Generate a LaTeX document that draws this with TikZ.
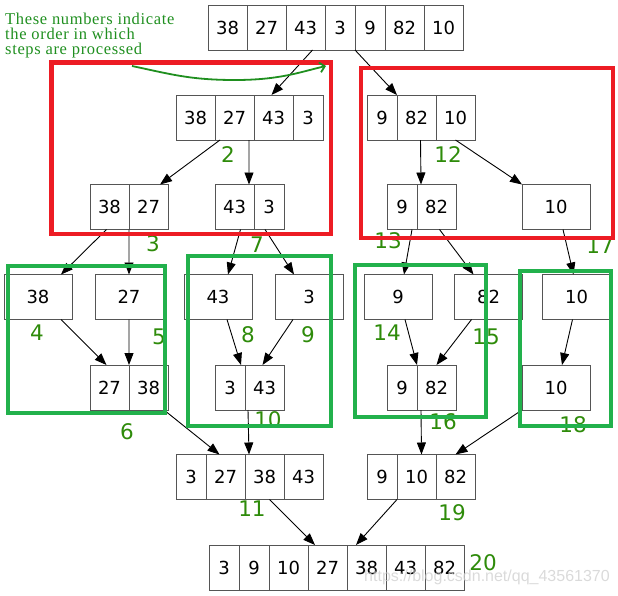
\documentclass[tikz,border=0pt]{standalone}
\usepackage{fontspec}
\setmainfont{DejaVu Sans}
\newfontfamily\notefont[LetterSpace=4]{Liberation Serif}
\newfontfamily\markfont{Liberation Sans}
\usetikzlibrary{arrows.meta,positioning}
\definecolor{cellln}{HTML}{555555}
\definecolor{stepg}{HTML}{2E8B0A}
\definecolor{splitr}{HTML}{ED1C24}
\definecolor{mergeg}{HTML}{22B14C}
\definecolor{noteg}{HTML}{1F8F1F}
\tikzset{
  cell/.style={draw=cellln,line width=1pt,outer sep=0pt,minimum width=30pt,minimum height=45pt,inner xsep=8.05pt,font=\fontsize{18}{18}\selectfont},
  wcell/.style={cell,minimum width=68pt},
  ar/.style={-{Triangle[length=12pt,width=9pt]},line width=0.9pt},
  num/.style={text=stepg,font=\fontsize{21.5}{21.5}\selectfont},
  redbox/.style={draw=splitr,line width=4.5pt},
  grnbox/.style={draw=mergeg,line width=4pt},
}
% one row of cells: name, x, y, values
\newcommand{\cellrow}[4]{%
  \foreach \v [count=\i] in {#4}{%
    \ifnum\i=1
      \node[cell,anchor=west] (#1-\i) at (#2,#3) {\v};
    \else
      \pgfmathtruncatemacro{\j}{\i-1}%
      \node[cell,right=0pt of #1-\j] (#1-\i) {\v};
    \fi
  }%
}

\begin{document}
\begin{tikzpicture}[x=1pt,y=-1pt]
\useasboundingbox (0,0) rectangle (618,595);

% split
\cellrow{src}{208}{27.5}{38,27,43,3,9,82,10}
\cellrow{lh}{176}{117.5}{38,27,43,3}
\cellrow{rh}{367}{117.5}{9,82,10}
\cellrow{lq1}{90}{207}{38,27}
\cellrow{lq2}{215}{207}{43,3}
\cellrow{rq1}{387}{207}{9,82}
\node[wcell] (rq2) at (556,207) {10};
\node[wcell] (s38) at (38,297) {38};
\node[wcell] (s27) at (129,297) {27};
\node[wcell] (s43) at (218,297) {43};
\node[wcell] (s3) at (309,297) {3};
\node[wcell] (s9) at (398,297) {9};
\node[wcell] (s82) at (488.5,297) {82};
\node[wcell] (s10) at (576.5,297) {10};

% merge
\cellrow{m1}{90}{387.5}{27,38}
\cellrow{m2}{215}{387.5}{3,43}
\cellrow{m3}{387}{387.5}{9,82}
\node[wcell] (m4) at (556,387.5) {10};
\cellrow{ml}{176}{477}{3,27,38,43}
\cellrow{mr}{367}{477}{9,10,82}
\cellrow{res}{209}{567.5}{3,9,10,27,38,43,82}

\draw[ar] ([xshift=7]src-3.south) -- ([xshift=-2]lh-3.north);
\draw[ar] (src-4.south east) -- (rh-1.north east);
\draw[ar] ([xshift=5]lh-2.south west) -- ([xshift=-8]lq1-2.north east);
\draw[ar] ([xshift=-5]lh-3.south west) -- ([xshift=-5]lq2-1.north east);
\draw[ar] ([xshift=4]rh-2.south) -- ([xshift=4]rq1-1.north east);
\draw[ar] (rh-3.south) -- (rq2.north west);
\draw[ar] ([xshift=-3]lq1-1.south) -- ([xshift=-11]s38.north east);
\draw[ar] (lq1-1.south east) -- (s27.north);
\draw[ar] ([xshift=6]lq2-1.south) -- ([xshift=10]s43.north);
\draw[ar] ([xshift=-4]lq2-2.south) -- ([xshift=-15]s3.north);
\draw[ar] ([xshift=10]rq1-1.south) -- ([xshift=6]s9.north);
\draw[ar] ([xshift=3]rq1-2.south) -- ([xshift=-15]s82.north);
\draw[ar] ([xshift=7]rq2.south) -- ([xshift=-3]s10.north);
\draw[ar] ([xshift=23]s38.south) -- ([xshift=-3]m1-1.north);
\draw[ar] (s27.south) -- (m1-1.north east);
\draw[ar] ([xshift=9]s43.south) -- ([xshift=-4]m2-1.north east);
\draw[ar] ([xshift=-16]s3.south) -- ([xshift=-2]m2-2.north);
\draw[ar] ([xshift=7]s9.south) -- (m3-1.north east);
\draw[ar] ([xshift=-17]s82.south) -- (m3-2.north);
\draw[ar] ([xshift=-4]s10.south) -- ([xshift=6]m4.north);
\draw[ar] ([xshift=-4]m1-2.south east) -- ([xshift=-6]ml-2.north);
\draw[ar] ([xshift=3]m2-2.south west) -- ([xshift=4]ml-3.north west);
\draw[ar] ([xshift=4]m3-2.south west) -- ([xshift=5]mr-2.north);
\draw[ar] (m4.south west) -- (mr-3.north);
\draw[ar] ([xshift=5]ml-3.south) -- ([xshift=7]res-4.north west);
\draw[ar] (mr-1.south east) -- ([xshift=9]res-5.north west);

% step order
\node[num] (n2) at (228,155) {2};
\node[num] (n3) at (153,244) {3};
\node[num] (n7) at (257,245) {7};
\node[num] (n4) at (37,333) {4};
\node[num] (n5) at (159,337) {5};
\node[num] (n6) at (127,432) {6};
\node[num] (n8) at (248,335) {8};
\node[num] (n9) at (308,335) {9};
\node[num] (n10) at (268,420) {10};
\node[num] (n11) at (252,509) {11};
\node[num] (n12) at (448,155) {12};
\node[num] (n13) at (388,241) {13};
\node[num] (n14) at (387,333) {14};
\node[num] (n15) at (486,337) {15};
\node[num] (n16) at (443,422) {16};
\node[num] (n17) at (600,246) {17};
\node[num] (n18) at (573,425) {18};
\node[num] (n19) at (452,513) {19};
\node[num] (n20) at (483,563) {20};

\draw[redbox] (51.5,62.5) rectangle (331,234);
\draw[redbox] (361,68) rectangle (613,238);
\draw[grnbox] (8,266) rectangle (165,413);
\draw[grnbox] (188,256) rectangle (331,426);
\draw[grnbox] (355,265) rectangle (486,417);
\draw[grnbox] (520,271) rectangle (611,426);

\node[anchor=north west,inner sep=0pt,align=left,text=noteg,font=\notefont\fontsize{16.5}{15}\selectfont] (note) at (5,12.5)
  {These numbers indicate\\the order in which\\steps are processed};
\coordinate (sq-a) at (132,66);
\coordinate (sq-b) at (326,66);
\draw[noteg,line width=1.8pt,-{Straight Barb[length=5pt]}] (sq-a) .. controls (170,74) and (190,80) .. (235,80) .. controls (280,80) and (300,72) .. (sq-b);

\node[text=black!18,opacity=0.8,font=\markfont\fontsize{16}{16}\selectfont] (mark) at (487,577) {https://blog.csdn.net/qq\_43561370};
\end{tikzpicture}
\end{document}
